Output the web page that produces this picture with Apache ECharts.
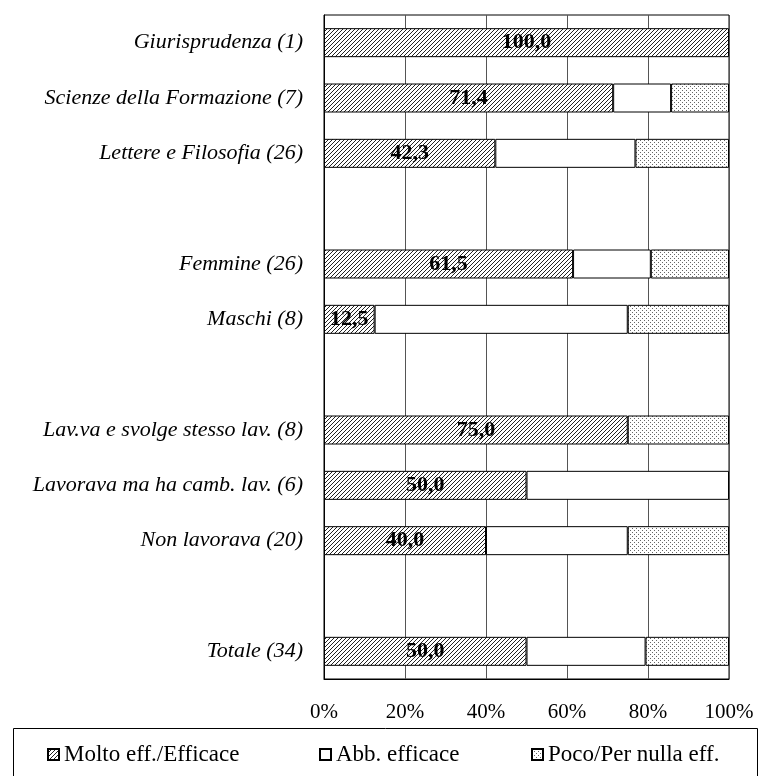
<!DOCTYPE html>
<html>
<head>
<meta charset="utf-8">
<script src="https://cdn.jsdelivr.net/npm/echarts@6/dist/echarts.min.js"></script>
<style>
  body { margin: 0; background: #fff; }
  #chart { width: 762px; height: 776px; }
</style>
</head>
<body>
<div id="chart"></div>
<script>
// categories (blank entries are the gaps between groups)
let categories = ['Giurisprudenza (1)', 'Scienze della Formazione (7)', 'Lettere e Filosofia (26)', ' ',
    'Femmine (26)', 'Maschi (8)', '  ',
    'Lav.va e svolge stesso lav. (8)', 'Lavorava ma ha camb. lav. (6)', 'Non lavorava (20)', '   ',
    'Totale (34)'];
let molto_Data = [100.0, 71.4, 42.3, null, 61.5, 12.5, null, 75.0, 50.0, 40.0, null, 50.0];
let abb_Data = [0, 14.3, 34.6, null, 19.2, 62.5, null, 0, 50.0, 35.0, null, 29.4];
let poco_Data = [0, 14.3, 23.1, null, 19.3, 25.0, null, 25.0, 0, 25.0, null, 20.6];
let seriesNames = ['Molto eff./Efficace', 'Abb. efficace', 'Poco/Per nulla eff.'];
let tickValues = [0, 20, 40, 60, 80, 100];

const FONT = "'Liberation Serif', 'DejaVu Serif', serif";

// fill patterns
function makeHatch() {
    let c = document.createElement('canvas');
    c.width = 4; c.height = 4;
    let ctx = c.getContext('2d');
    ctx.fillStyle = '#fff';
    ctx.fillRect(0, 0, 4, 4);
    ctx.fillStyle = '#222';
    for (let i = 0; i < 4; i++) {
        ctx.fillRect(3 - i, i, 1, 1);
    }
    return c;
}
function makeDots() {
    let c = document.createElement('canvas');
    c.width = 4; c.height = 4;
    let ctx = c.getContext('2d');
    ctx.fillStyle = '#fff';
    ctx.fillRect(0, 0, 4, 4);
    ctx.fillStyle = '#666';
    ctx.fillRect(0, 0, 1, 1);
    ctx.fillRect(2, 2, 1, 1);
    return c;
}

let fills = [
    { image: makeHatch(), repeat: 'repeat' },
    '#ffffff',
    { image: makeDots(), repeat: 'repeat' }
];

function clean(arr) {
    return arr.map(v => (v === null || v === 0) ? '-' : v);
}

let allData = [molto_Data, abb_Data, poco_Data];
let series = allData.map((d, i) => ({
    name: seriesNames[i],
    type: 'bar',
    stack: 'total',
    barWidth: 29,
    data: clean(d),
    itemStyle: {
        color: fills[i],
        borderColor: '#000',
        borderWidth: 1
    },
    label: {
        show: i === 0,
        position: 'inside',
        color: '#000',
        fontFamily: FONT,
        fontWeight: 'bold',
        fontSize: 22,
        formatter: p => p.value.toFixed(1).replace('.', ',')
    },
    emphasis: { disabled: true }
}));

let legendLefts = [47, 319, 531];
let legends = seriesNames.map((n, i) => ({
    data: [n],
    left: legendLefts[i],
    top: 743,
    padding: 0,
    icon: 'rect',
    itemWidth: 11,
    itemHeight: 11,
    itemGap: 4,
    selectedMode: false,
    textStyle: { fontFamily: FONT, fontSize: 23, color: '#000' }
}));

var myChart = echarts.init(document.getElementById('chart'));
var option = {
    animation: false,
    backgroundColor: '#fff',
    grid: {
        left: 324,
        right: 33,
        top: 15,
        bottom: 97,
        show: true,
        borderColor: '#000',
        borderWidth: 1
    },
    legend: legends,
    xAxis: {
        type: 'value',
        min: tickValues[0],
        max: tickValues[tickValues.length - 1],
        interval: 20,
        axisLine: { show: true, lineStyle: { color: '#000' } },
        axisTick: { show: false },
        splitLine: { show: true, lineStyle: { color: '#555', width: 1 } },
        axisLabel: {
            margin: 23,
            color: '#000',
            fontFamily: FONT,
            fontSize: 21,
            formatter: '{value}%'
        }
    },
    yAxis: {
        type: 'category',
        inverse: true,
        data: categories,
        axisLine: { show: true, lineStyle: { color: '#000' } },
        axisTick: { show: false },
        splitLine: { show: false },
        axisLabel: {
            margin: 21,
            color: '#000',
            fontFamily: FONT,
            fontStyle: 'italic',
            fontSize: 22
        }
    },
    graphic: [
        {
            type: 'rect',
            shape: { x: 13.5, y: 728.5, width: 744, height: 70 },
            style: { fill: null, stroke: '#000', lineWidth: 1 },
            silent: true
        }
    ],
    series: series
};
myChart.setOption(option);
</script>
</body>
</html>
